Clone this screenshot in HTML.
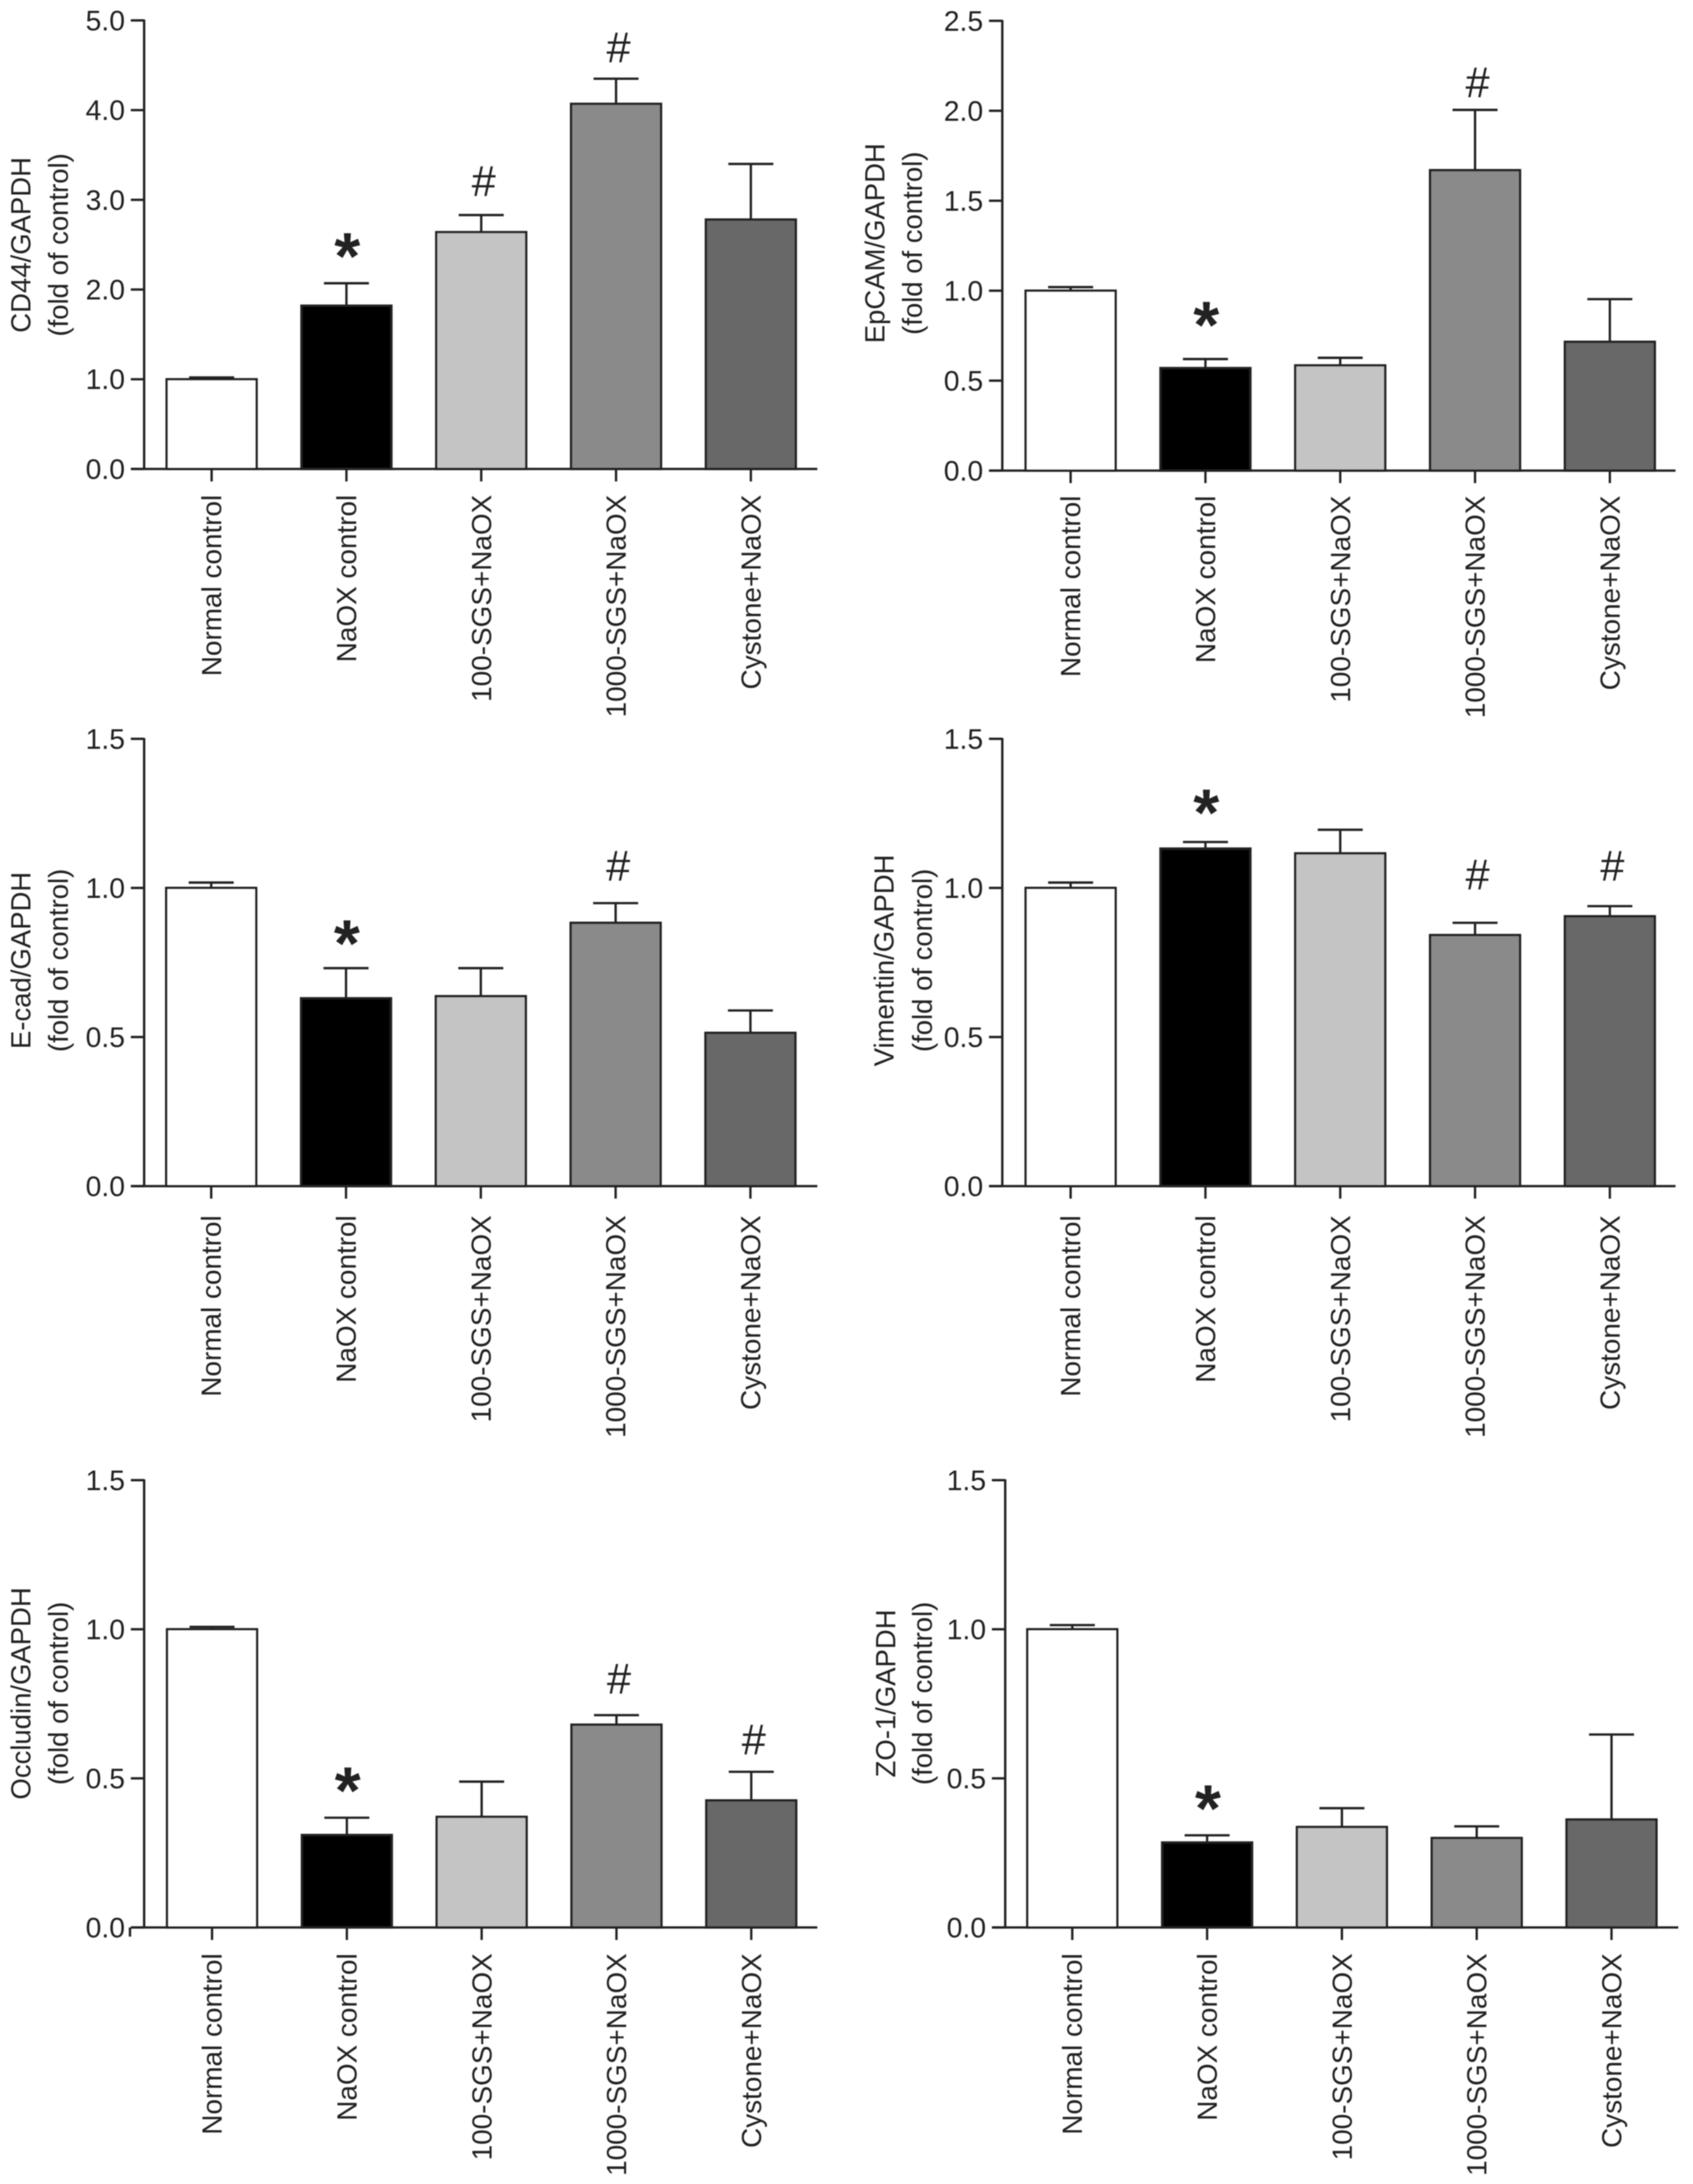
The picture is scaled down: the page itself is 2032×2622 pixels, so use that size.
<!DOCTYPE html>
<html lang="en">
<head>
<meta charset="utf-8">
<title>Relative mRNA expression bar charts</title>
<style>
html,body{margin:0;padding:0;background:#fff;}
body{width:2032px;height:2622px;overflow:hidden;}
svg{display:block;}
text{font-family:"Liberation Sans",Arial,sans-serif;fill:#232323;}
</style>
</head>
<body>
<svg id="figure" xmlns="http://www.w3.org/2000/svg" width="2032" height="2622" viewBox="0 0 2032 2622">
<defs><filter id="soft" x="0" y="0" width="100%" height="100%"><feGaussianBlur stdDeviation="0.55"/></filter></defs>
<rect width="2032" height="2622" fill="#ffffff"/>
<g id="root" filter="url(#soft)"></g>
</svg>
<script>
const categories = ['Normal control','NaOX control','100-SGS+NaOX','1000-SGS+NaOX','Cystone+NaOX'];

const cd44Ticks = ['0.0','1.0','2.0','3.0','4.0','5.0'];
const cd44Values = [1.0,1.82,2.64,4.07,2.78];
const cd44Errors = [0.02,0.25,0.19,0.28,0.62];
const cd44Marks = ['','*','#','#',''];
const cd44MarkLevels = [0,2.45,3.20,4.69,0];

const epcamTicks = ['0.0','0.5','1.0','1.5','2.0','2.5'];
const epcamValues = [1.0,0.57,0.585,1.67,0.716];
const epcamErrors = [0.02,0.05,0.042,0.335,0.237];
const epcamMarks = ['','*','','#',''];
const epcamMarkLevels = [0,0.849,0,2.153,0];

const ecadTicks = ['0.0','0.5','1.0','1.5'];
const ecadValues = [1.0,0.63,0.637,0.883,0.514];
const ecadErrors = [0.018,0.101,0.094,0.066,0.075];
const ecadMarks = ['','*','','#',''];
const ecadMarkLevels = [0,0.838,0,1.072,0];

const vimentinTicks = ['0.0','0.5','1.0','1.5'];
const vimentinValues = [1.0,1.132,1.116,0.842,0.905];
const vimentinErrors = [0.018,0.022,0.079,0.041,0.034];
const vimentinMarks = ['','*','','#','#'];
const vimentinMarkLevels = [0,1.276,0,1.043,1.072];

const occludinTicks = ['0.0','0.5','1.0','1.5'];
const occludinValues = [1.0,0.31,0.371,0.68,0.426];
const occludinErrors = [0.008,0.058,0.118,0.032,0.096];
const occludinMarks = ['','*','','#','#'];
const occludinMarkLevels = [0,0.483,0,0.831,0.627];

const zo1Ticks = ['0.0','0.5','1.0','1.5'];
const zo1Values = [1.0,0.285,0.337,0.30,0.362];
const zo1Errors = [0.014,0.024,0.063,0.039,0.285];
const zo1Marks = ['','*','','',''];
const zo1MarkLevels = [0,0.423,0,0,0];

const barFills = ['#ffffff','#000000','#c4c4c4','#8a8a8a','#686868'];

const panels = [
  {id:'cd44',title:'CD44/GAPDH',ticks:cd44Ticks,values:cd44Values,errors:cd44Errors,marks:cd44Marks,levels:cd44MarkLevels,
   axisX:173,top:24.5,base:563,firstX:254,labelGap:31,t1:25,t2:70,tc:294},
  {id:'epcam',title:'EpCAM/GAPDH',ticks:epcamTicks,values:epcamValues,errors:epcamErrors,marks:epcamMarks,levels:epcamMarkLevels,
   axisX:1203,top:25,base:565,firstX:1285,labelGap:30,t1:1050,t2:1095,tc:292},
  {id:'ecad',title:'E-cad/GAPDH',ticks:ecadTicks,values:ecadValues,errors:ecadErrors,marks:ecadMarks,levels:ecadMarkLevels,
   axisX:173,top:887,base:1424,firstX:253.5,labelGap:35,t1:25,t2:70,tc:1153},
  {id:'vimentin',title:'Vimentin/GAPDH',ticks:vimentinTicks,values:vimentinValues,errors:vimentinErrors,marks:vimentinMarks,levels:vimentinMarkLevels,
   axisX:1203,top:887,base:1424,firstX:1285,labelGap:35,t1:1061,t2:1107,tc:1153},
  {id:'occludin',title:'Occludin/GAPDH',ticks:occludinTicks,values:occludinValues,errors:occludinErrors,marks:occludinMarks,levels:occludinMarkLevels,
   axisX:173,top:1777,base:2314,firstX:254.5,labelGap:31,t1:25,t2:70,tc:2033,foot:true},
  {id:'zo1',title:'ZO-1/GAPDH',ticks:zo1Ticks,values:zo1Values,errors:zo1Errors,marks:zo1Marks,levels:zo1MarkLevels,
   axisX:1206.5,top:1777,base:2314,firstX:1287,labelGap:31,t1:1063,t2:1107,tc:2033}
];

const STEP = 161.8, BAR_W = 108, CAP_W = 54, STROKE = '#232323', SW = 2.8, FS = 33.5;
const SVGNS = 'http://www.w3.org/2000/svg';
const root = document.getElementById('root');

function mk(tag, parent, attrs, text) {
  const n = document.createElementNS(SVGNS, tag);
  for (const k in attrs) n.setAttribute(k, attrs[k]);
  if (text !== undefined) n.textContent = text;
  parent.appendChild(n);
  return n;
}

panels.forEach(function (p) {
  const maxV = parseFloat(p.ticks[p.ticks.length - 1]);
  const yScale = function (v) { return p.base - (v / maxV) * (p.base - p.top); };
  const xScale = function (i) { return p.firstX + i * STEP; };

  const g = mk('g', root, {});
  
  

  p.values.forEach(function (v, i) {
    const cx = xScale(i);
    const yTop = yScale(v + p.errors[i]);
    const yVal = yScale(v);

    const stem = mk('line', g, {x1:cx, x2:cx, y1:yTop, y2:yVal, stroke:STROKE, 'stroke-width':SW});
    
    

    const cap = mk('line', g, {x1:cx - CAP_W / 2, x2:cx + CAP_W / 2, y1:yTop, y2:yTop, stroke:STROKE, 'stroke-width':SW});
    
    

    const bar = mk('rect', g, {x:cx - BAR_W / 2, y:yVal, width:BAR_W, height:p.base - yVal, fill:barFills[i], stroke:STROKE, 'stroke-width':SW});
    
    

    const xTick = mk('line', g, {x1:cx, x2:cx, y1:p.base, y2:p.base + 15, stroke:STROKE, 'stroke-width':SW});
    
    

    const ly = p.base + p.labelGap;
    const lab = mk('text', g, {x:cx, y:ly, 'font-size':FS, 'text-anchor':'end', dy:'0.35em', transform:'rotate(-90 ' + cx + ' ' + ly + ')'}, categories[i]);
    
    

    if (p.marks[i] === '*') {
      const fs = 80;
      const star = mk('text', g, {x:cx + 1, y:yScale(p.levels[i]) + 0.45 * fs, 'font-size':fs, 'text-anchor':'middle', 'font-weight':'bold', fill:'#111'}, '*');
      
      
    } else if (p.marks[i] === '#') {
      const fs = 52;
      const hash = mk('text', g, {x:cx + 3, y:yScale(p.levels[i]) + 0.33 * fs, 'font-size':fs, 'text-anchor':'middle'}, '#');
      
      
    }
  });

  const yAxis = mk('line', g, {x1:p.axisX, x2:p.axisX, y1:p.top - 1, y2:p.base, stroke:STROKE, 'stroke-width':SW});
  
  

  const xAxis = mk('line', g, {x1:p.axisX - 16, x2:p.axisX + 808, y1:p.base, y2:p.base, stroke:STROKE, 'stroke-width':SW});
  
  

  if (p.foot) {
    const foot = mk('line', g, {x1:p.axisX - 17, x2:p.axisX - 17, y1:p.base, y2:p.base + 11, stroke:STROKE, 'stroke-width':SW});
    
    
  }

  p.ticks.forEach(function (t) {
    const y = yScale(parseFloat(t));
    const tick = mk('line', g, {x1:p.axisX - 16, x2:p.axisX, y1:y, y2:y, stroke:STROKE, 'stroke-width':SW});
    
    

    const lab = mk('text', g, {x:p.axisX - 23, y:y, dy:'0.35em', 'font-size':34, 'text-anchor':'end'}, t);
    
    
  });

  const title1 = mk('text', g, {x:p.t1, y:p.tc, dy:'0.35em', 'font-size':33, 'text-anchor':'middle', transform:'rotate(-90 ' + p.t1 + ' ' + p.tc + ')'}, p.title);
  
  

  const title2 = mk('text', g, {x:p.t2, y:p.tc, dy:'0.35em', 'font-size':33, 'text-anchor':'middle', transform:'rotate(-90 ' + p.t2 + ' ' + p.tc + ')'}, '(fold of control)');
  
  
});
</script>
</body>
</html>
